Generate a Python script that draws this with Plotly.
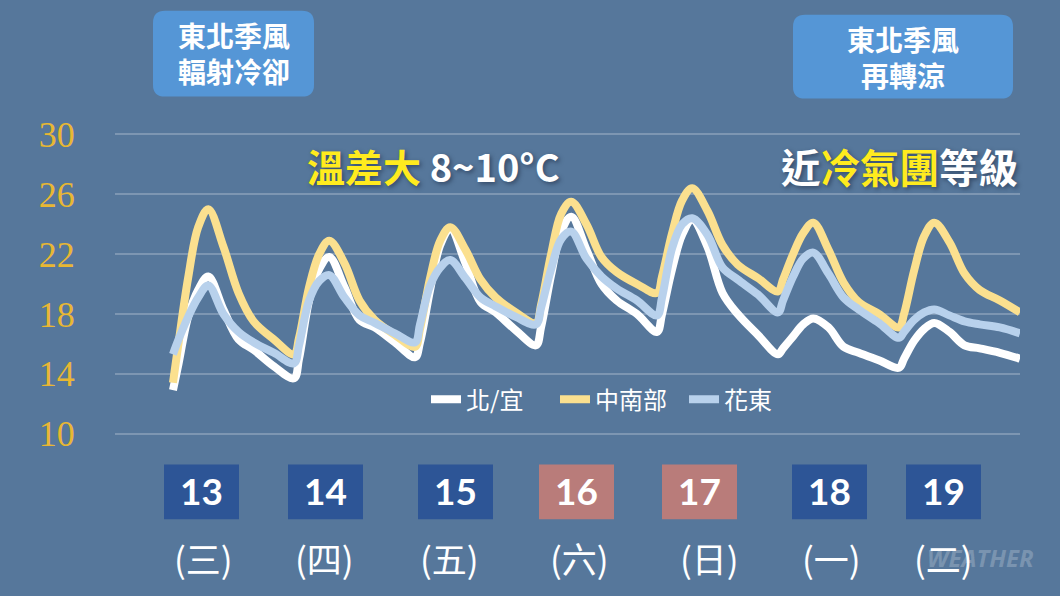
#!/usr/bin/env python3
"""Weekly temperature forecast chart: 北/宜, 中南部, 花東."""

import plotly.graph_objects as go

W, H = 1060, 596
# plot area on the page, in pixels (y range is padded so the 10 and 30 gridlines draw)
LEFT, RIGHT, TOP, BOTTOM = 115, 1020, 126.5, 441.5

BG = '#56779B'
GRID = '#7D96B2'
GOLD = '#E8B733'
YELLOW_TXT = '#FFEB1E'
WHITE_LINE = '#FFFFFF'
YELLOW_LINE = '#FBE08F'
BLUE_LINE = '#B8D1EC'
BOX_BLUE = '#5596D6'
DAY_BLUE = '#2D5596'
DAY_RED = '#B97C7A'
CJK = 'Noto Sans CJK TC'

# hours since the start of the forecast
HOURS = [0, 1, 3, 5, 7, 10, 13, 16, 20,
         24, 25, 27, 29, 31, 34, 37, 40, 44,
         48, 49, 51, 53, 55, 58, 61, 64, 68,
         72, 73, 75, 77, 79, 82, 85, 88, 92,
         96, 97, 99, 101, 103, 106, 109, 112, 116,
         120, 121, 123, 125, 127, 130, 133, 136, 140,
         144, 145, 147, 149, 151, 154, 157, 160, 164,
         168]

NORTH = [12.9, 14.5, 17.8, 19.6, 20.5, 18.3, 16.3, 15.6, 14.5,
         13.7, 15.0, 18.9, 21.0, 21.8, 19.8, 17.6, 17.1, 16.1,
         15.1, 16.1, 19.6, 22.6, 23.7, 21.4, 18.8, 18.1, 16.9,
         15.9, 17.1, 20.6, 23.5, 24.5, 22.3, 20.0, 18.9, 18.0,
         16.8, 18.0, 21.0, 23.3, 24.3, 22.5, 19.4, 18.0, 16.6,
         15.3, 15.7, 16.5, 17.3, 17.7, 17.1, 15.8, 15.4, 14.9,
         14.4, 15.0, 16.2, 17.0, 17.4, 16.8, 15.9, 15.7, 15.4,
         15.0]

CENTRAL_SOUTH = [13.4, 15.8, 20.4, 23.8, 25.0, 22.5, 19.4, 17.5, 16.3,
                 15.3, 16.4, 19.8, 22.0, 22.9, 21.4, 18.9, 17.6, 16.6,
                 15.8, 17.0, 20.4, 22.9, 23.8, 22.3, 20.3, 19.1, 18.1,
                 17.4, 18.6, 22.0, 24.7, 25.5, 24.0, 21.8, 20.8, 20.0,
                 19.4, 20.5, 23.4, 25.6, 26.4, 24.9, 22.6, 21.3, 20.4,
                 19.5, 20.3, 22.0, 23.4, 24.1, 22.3, 20.1, 18.8, 18.0,
                 17.1, 18.0, 20.9, 23.2, 24.1, 22.8, 20.7, 19.6, 18.9,
                 18.1]

EAST = [15.3, 16.2, 17.8, 19.1, 19.9, 18.0, 16.8, 16.1, 15.4,
        14.7, 15.9, 18.9, 20.2, 20.6, 19.1, 17.9, 17.4, 16.7,
        16.1, 17.3, 19.9, 21.1, 21.6, 20.4, 19.1, 18.5, 17.8,
        17.3, 18.4, 21.0, 23.0, 23.5, 21.7, 20.5, 19.7, 18.9,
        17.9, 19.1, 22.4, 24.0, 24.4, 23.3, 21.1, 20.3, 19.3,
        18.1, 18.9, 20.5, 21.7, 22.1, 20.7, 19.1, 18.3, 17.4,
        16.4, 16.8, 17.6, 18.1, 18.3, 17.9, 17.5, 17.3, 17.1,
        16.7]

Y_TICKS = [10, 14, 18, 22, 26, 30]

DAY_LABELS = ['13', '14', '15', '16', '17', '18', '19']
DAY_BOX_LEFT = [164, 288, 418, 539, 662, 792, 906]
DAY_COLORS = [DAY_BLUE, DAY_BLUE, DAY_BLUE, DAY_RED, DAY_RED, DAY_BLUE, DAY_BLUE]
WEEKDAYS = ['(三)', '(四)', '(五)', '(六)', '(日)', '(一)', '(二)']
WEEKDAY_X = [203, 324, 449, 579, 709, 831, 943]


def px(x):
    # page pixel to paper coordinate (paper is the plot area)
    return (x - LEFT) / (RIGHT - LEFT)


def py(y):
    return (BOTTOM - y) / (BOTTOM - TOP)


def rounded_box(x0, y0, x1, y1, r, color):
    """Rounded rectangle in page pixels, as a paper-referenced shape."""
    xa, xb, ya, yb = px(x0), px(x1), py(y0), py(y1)
    dx, dy = r / (RIGHT - LEFT), r / (BOTTOM - TOP)
    path = (f'M {xa + dx} {ya} L {xb - dx} {ya} Q {xb} {ya} {xb} {ya - dy} '
            f'L {xb} {yb + dy} Q {xb} {yb} {xb - dx} {yb} '
            f'L {xa + dx} {yb} Q {xa} {yb} {xa} {yb + dy} '
            f'L {xa} {ya - dy} Q {xa} {ya} {xa + dx} {ya} Z')
    return dict(type='path', path=path, xref='paper', yref='paper',
                fillcolor=color, line=dict(width=0), layer='below')


def label(x, y, text, size, color='white', family=CJK, **kw):
    return dict(x=px(x), y=py(y), xref='paper', yref='paper', text=text, showarrow=False,
                font=dict(size=size, color=color, family=family, **kw),
                xanchor='center', yanchor='middle')


fig = go.Figure()
for name, values, color in [('北/宜', NORTH, WHITE_LINE),
                            ('中南部', CENTRAL_SOUTH, YELLOW_LINE),
                            ('花東', EAST, BLUE_LINE)]:
    fig.add_trace(go.Scatter(
        x=HOURS, y=values, mode='lines', name=name,
        line=dict(color=color, width=8, shape='spline', smoothing=1),
    ))

shapes = [rounded_box(153, 10, 314, 96, 12, BOX_BLUE),
          rounded_box(793, 14, 1013, 98, 12, BOX_BLUE)]
for left, color in zip(DAY_BOX_LEFT, DAY_COLORS):
    shapes.append(dict(type='rect', xref='paper', yref='paper', layer='below',
                       x0=px(left), x1=px(left + 75), y0=py(465), y1=py(520),
                       fillcolor=color, line=dict(width=0)))

SHADOW = '2px 2px 4px rgba(30,45,70,0.6)'
annotations = [
    label(234, 52, '<b>東北季風<br>輻射冷卻</b>', 28),
    label(903, 56, '<b>東北季風<br>再轉涼</b>', 28),
    label(433, 165, f'<b><span style="color:{YELLOW_TXT}">溫差大</span> 8~10°C</b>', 38, shadow=SHADOW),
    label(899, 165, f'<b>近<span style="color:{YELLOW_TXT}">冷氣團</span>等級</b>', 39.5, shadow=SHADOW),
]
for text, left in zip(DAY_LABELS, DAY_BOX_LEFT):
    annotations.append(label(left + 37, 491, f'<b>{text}</b>', 37, family='Lato'))
for text, x in zip(WEEKDAYS, WEEKDAY_X):
    annotations.append(label(x, 558, text, 35))
annotations.append(label(980, 558, '<i><b>WEATHER</b></i>', 24, color='rgba(255,255,255,0.22)',
                         family='Open Sans'))

fig.update_layout(
    width=W, height=H,
    margin=dict(l=LEFT, r=W - RIGHT, t=TOP, b=H - BOTTOM),
    paper_bgcolor=BG,
    plot_bgcolor=BG,
    shapes=shapes,
    annotations=annotations,
    showlegend=True,
    legend=dict(orientation='h', x=px(426), y=py(400), xanchor='left', yanchor='middle',
                bgcolor='rgba(0,0,0,0)', itemwidth=30, entrywidth=84, entrywidthmode='pixels',
                font=dict(size=24, color='white', family=CJK)),
)
fig.update_xaxes(range=[-11.5, 168], visible=False)
fig.update_yaxes(range=[9.5, 30.5], tickvals=Y_TICKS, showgrid=True, gridcolor=GRID, gridwidth=1.5,
                 zeroline=False, showline=False, ticks='outside', ticklen=32,
                 tickcolor='rgba(0,0,0,0)',
                 tickfont=dict(size=36, color=GOLD, family='Liberation Serif'))

# drop the page's default body margin so the figure fills the window
fig.write_html("out.html", config={'displayModeBar': False},
               post_script="document.body.style.margin='0';")
